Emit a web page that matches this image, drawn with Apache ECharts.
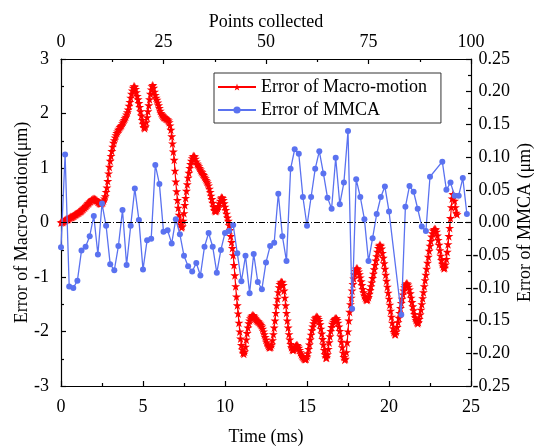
<!DOCTYPE html>
<html>
<head>
<meta charset="utf-8">
<script src="https://cdn.jsdelivr.net/npm/echarts@6/dist/echarts.min.js"></script>
<style>html,body{margin:0;padding:0;background:#fff;}#c{width:540px;height:446px;}</style>
</head>
<body>
<div id="c"></div>
<script>
// Macro-motion error (µm), sampled every macroStep ms from t = 0
const macroStep = 0.05;
const macroError = [
0.00,0.01,0.01,0.02,0.03,0.04,0.05,0.06,0.06,0.07,0.08,0.09,0.10,0.10,0.11,0.12,0.13,0.14,0.15,0.16,
0.17,0.18,0.19,0.20,0.21,0.22,0.24,0.25,0.27,0.28,0.30,0.31,0.33,0.35,0.36,0.38,0.39,0.41,0.42,0.42,
0.43,0.43,0.42,0.41,0.40,0.38,0.37,0.36,0.35,0.35,0.36,0.37,0.40,0.44,0.48,0.56,0.64,0.76,0.90,1.02,
1.13,1.22,1.31,1.39,1.46,1.51,1.56,1.60,1.64,1.67,1.70,1.72,1.75,1.77,1.79,1.82,1.85,1.88,1.91,1.94,
1.98,2.02,2.07,2.14,2.21,2.29,2.36,2.42,2.47,2.50,2.49,2.45,2.39,2.32,2.26,2.19,2.12,2.04,1.96,1.88,
1.81,1.75,1.73,1.76,1.84,1.93,2.04,2.15,2.26,2.36,2.44,2.50,2.52,2.47,2.40,2.34,2.29,2.25,2.20,2.15,
2.10,2.05,2.01,1.98,1.96,1.94,1.93,1.92,1.91,1.90,1.89,1.87,1.84,1.78,1.70,1.58,1.45,1.30,1.15,0.95,
0.75,0.57,0.41,0.27,0.14,0.04,-0.04,-0.09,-0.07,0.03,0.17,0.32,0.45,0.58,0.70,0.82,0.91,1.00,1.07,1.13,
1.18,1.21,1.22,1.21,1.17,1.12,1.08,1.06,1.03,1.00,0.97,0.94,0.92,0.89,0.87,0.84,0.81,0.78,0.75,0.72,
0.68,0.62,0.56,0.49,0.43,0.36,0.29,0.23,0.21,0.21,0.23,0.26,0.30,0.35,0.40,0.44,0.46,0.45,0.41,0.35,
0.29,0.23,0.16,0.09,0.03,-0.05,-0.14,-0.25,-0.36,-0.47,-0.60,-0.78,-0.97,-1.17,-1.36,-1.52,-1.67,-1.84,-2.00,-2.13,
-2.25,-2.33,-2.39,-2.41,-2.37,-2.28,-2.15,-2.03,-1.93,-1.85,-1.80,-1.76,-1.73,-1.71,-1.70,-1.71,-1.73,-1.76,-1.78,-1.80,
-1.81,-1.82,-1.84,-1.86,-1.88,-1.91,-1.95,-2.00,-2.05,-2.10,-2.15,-2.20,-2.24,-2.27,-2.29,-2.29,-2.28,-2.24,-2.16,-2.05,
-1.93,-1.80,-1.66,-1.52,-1.40,-1.28,-1.19,-1.13,-1.10,-1.09,-1.10,-1.15,-1.25,-1.38,-1.52,-1.66,-1.80,-1.93,-2.05,-2.15,
-2.23,-2.29,-2.33,-2.34,-2.33,-2.30,-2.27,-2.25,-2.25,-2.27,-2.30,-2.34,-2.38,-2.42,-2.45,-2.47,-2.49,-2.50,-2.51,-2.50,
-2.46,-2.40,-2.32,-2.24,-2.15,-2.06,-1.98,-1.91,-1.85,-1.80,-1.76,-1.74,-1.73,-1.74,-1.77,-1.81,-1.87,-1.95,-2.04,-2.14,
-2.24,-2.34,-2.42,-2.48,-2.48,-2.42,-2.32,-2.20,-2.09,-1.99,-1.92,-1.86,-1.82,-1.79,-1.77,-1.76,-1.76,-1.79,-1.84,-1.91,
-1.99,-2.09,-2.19,-2.29,-2.39,-2.47,-2.52,-2.50,-2.38,-2.20,-2.00,-1.80,-1.64,-1.50,-1.38,-1.25,-1.13,-1.03,-0.95,-0.89,
-0.85,-0.84,-0.86,-0.90,-0.95,-1.01,-1.08,-1.15,-1.22,-1.28,-1.34,-1.38,-1.41,-1.42,-1.41,-1.37,-1.31,-1.24,-1.17,-1.10,
-1.02,-0.94,-0.86,-0.78,-0.70,-0.62,-0.54,-0.47,-0.43,-0.41,-0.43,-0.48,-0.56,-0.65,-0.75,-0.85,-0.96,-1.07,-1.18,-1.29,
-1.40,-1.51,-1.62,-1.73,-1.84,-1.94,-2.01,-2.05,-2.05,-2.00,-1.92,-1.83,-1.75,-1.66,-1.57,-1.48,-1.40,-1.32,-1.25,-1.19,
-1.15,-1.12,-1.12,-1.14,-1.18,-1.23,-1.30,-1.38,-1.46,-1.54,-1.61,-1.68,-1.74,-1.79,-1.83,-1.85,-1.83,-1.77,-1.69,-1.60,
-1.50,-1.39,-1.28,-1.17,-1.06,-0.96,-0.85,-0.74,-0.63,-0.52,-0.43,-0.34,-0.26,-0.20,-0.15,-0.13,-0.12,-0.13,-0.17,-0.24,
-0.32,-0.41,-0.51,-0.61,-0.69,-0.76,-0.81,-0.84,-0.83,-0.77,-0.67,-0.54,-0.40,-0.25,-0.10,0.08,0.28,0.44,0.52,0.50,
0.40,0.28,0.18,0.15
];

// MMCA error (µm) against collected point index
const mmcaIndex = [
0,1,2,3,4,5,6,7,8,9,10,11,12,13,14,15,16,17,18,19,
20,21,22,23,24,25,26,27,28,29,30,31,32,33,34,35,36,37,38,39,
40,41,42,43,44,45,46,47,48,49,50,51,52,53,54,55,56,57,58,59,
60,61,62,63,64,65,66,67,68,69,70,71,72,73,74,75,76,77,78,79,
80,83,84,85,86,87,88,89,90,93,94,95,96,97,98,99
];
const mmcaError = [
-0.038,0.104,-0.098,-0.100,-0.089,-0.043,-0.037,-0.021,0.010,-0.049,0.029,-0.005,-0.064,-0.073,-0.036,0.019,-0.065,-0.005,0.052,0.004,
-0.072,-0.027,-0.025,0.088,0.059,-0.014,-0.012,-0.032,0.005,-0.018,-0.051,-0.067,-0.075,-0.062,-0.081,-0.037,-0.016,-0.037,-0.077,-0.042,
-0.016,-0.013,-0.004,-0.047,-0.090,-0.051,-0.108,-0.048,-0.091,-0.102,-0.061,-0.036,-0.031,0.044,-0.021,-0.059,0.082,0.112,0.105,0.039,
-0.005,0.039,0.082,0.109,0.075,0.038,0.021,0.099,0.028,0.061,0.140,-0.132,0.066,0.039,0.005,-0.059,-0.024,0.013,0.039,0.055,
0.017,-0.141,0.024,0.056,0.047,0.021,-0.006,-0.013,0.070,0.093,0.050,0.061,0.041,0.041,0.068,0.013
];

const timeTicks = { min: 0, max: 25, interval: 5 };
const pointTicks = { min: 0, max: 100, interval: 25 };
const leftTicks = { min: -3, max: 3, interval: 1 };
const rightTicks = { min: -0.25, max: 0.25, interval: 0.05 };

const FONT = '"Liberation Serif", "Times New Roman", serif';
const RED = '#ff0000';
const BLUE = '#5a72f0';
const STAR = 'path://M0,-100 L22.45,-30.9 L95.1,-30.9 L36.3,11.8 L58.8,80.9 L0,38.2 L-58.8,80.9 L-36.3,11.8 L-95.1,-30.9 L-22.45,-30.9 Z';

const macroData = macroError.map((v, i) => [+(i * macroStep).toFixed(2), v]);
const mmcaData = mmcaIndex.map((p, i) => [p, mmcaError[i]]);

const axisLine = { show: true, onZero: false, lineStyle: { color: '#000', width: 1.2 } };
const axisTick = { show: true, inside: true, length: 5, lineStyle: { color: '#000', width: 1.2 } };
const minorTick = { show: true, splitNumber: 2, length: 3, lineStyle: { color: '#000', width: 1.2 } };
const lbl = { color: '#000', fontFamily: FONT, fontSize: 18 };

const chart = echarts.init(document.getElementById('c'), null, { renderer: 'canvas' });
chart.setOption({
  animation: false,
  backgroundColor: '#fff',
  grid: { left: 61, right: 69, top: 59, bottom: 60, containLabel: false, outerBoundsMode: 'none' },
  legend: {
    orient: 'vertical', left: 214, top: 73,
    padding: [5, 14, 4, 3], itemGap: 5, itemWidth: 38, itemHeight: 9,
    borderColor: '#333', borderWidth: 1,
    textStyle: { color: '#000', fontFamily: FONT, fontSize: 18 },
    data: ['Error of Macro-motion', 'Error of MMCA']
  },
  xAxis: [
    { type: 'value', position: 'bottom', min: timeTicks.min, max: timeTicks.max, interval: timeTicks.interval,
      name: 'Time (ms)', nameLocation: 'middle', nameGap: 42, nameMoveOverlap: false,
      nameTextStyle: lbl, axisLine, axisTick, minorTick,
      axisLabel: Object.assign({ margin: 12 }, lbl), splitLine: { show: false } },
    { type: 'value', position: 'top', min: pointTicks.min, max: pointTicks.max, interval: pointTicks.interval,
      name: 'Points collected', nameLocation: 'middle', nameGap: 28, nameMoveOverlap: false,
      nameTextStyle: lbl, axisLine, axisTick, minorTick,
      axisLabel: Object.assign({ margin: 8 }, lbl), splitLine: { show: false } }
  ],
  yAxis: [
    { type: 'value', position: 'left', min: leftTicks.min, max: leftTicks.max, interval: leftTicks.interval,
      name: 'Error of Macro-motion(μm)', nameLocation: 'middle', nameGap: 30, nameMoveOverlap: false,
      nameTextStyle: lbl, axisLine, axisTick, minorTick,
      axisLabel: Object.assign({ margin: 12 }, lbl), splitLine: { show: false } },
    { type: 'value', position: 'right', min: rightTicks.min, max: rightTicks.max, interval: rightTicks.interval,
      name: 'Error of MMCA (μm)', nameLocation: 'middle', nameGap: 45, nameMoveOverlap: false,
      nameTextStyle: lbl, axisLine, axisTick, minorTick,
      axisLabel: Object.assign({ margin: 39, align: 'right',
        formatter: v => Math.abs(v) < 1e-9 ? '0.00' : v.toFixed(2) }, lbl),
      splitLine: { show: false } }
  ],
  series: [
    { name: 'Error of Macro-motion', type: 'line', xAxisIndex: 0, yAxisIndex: 0,
      data: macroData, symbol: STAR, symbolSize: 9, showAllSymbol: true,
      itemStyle: { color: RED }, lineStyle: { color: RED, width: 1.2 }, z: 2,
      markLine: { silent: true, symbol: 'none', label: { show: false },
        lineStyle: { color: '#000', width: 1, type: [6, 2, 1, 2] },
        data: [{ yAxis: 0 }] } },
    { name: 'Error of MMCA', type: 'line', xAxisIndex: 1, yAxisIndex: 1,
      data: mmcaData, symbol: 'circle', symbolSize: 6, showAllSymbol: true,
      itemStyle: { color: BLUE }, lineStyle: { color: BLUE, width: 1.3 }, z: 3 }
  ]
});
</script>
</body>
</html>
